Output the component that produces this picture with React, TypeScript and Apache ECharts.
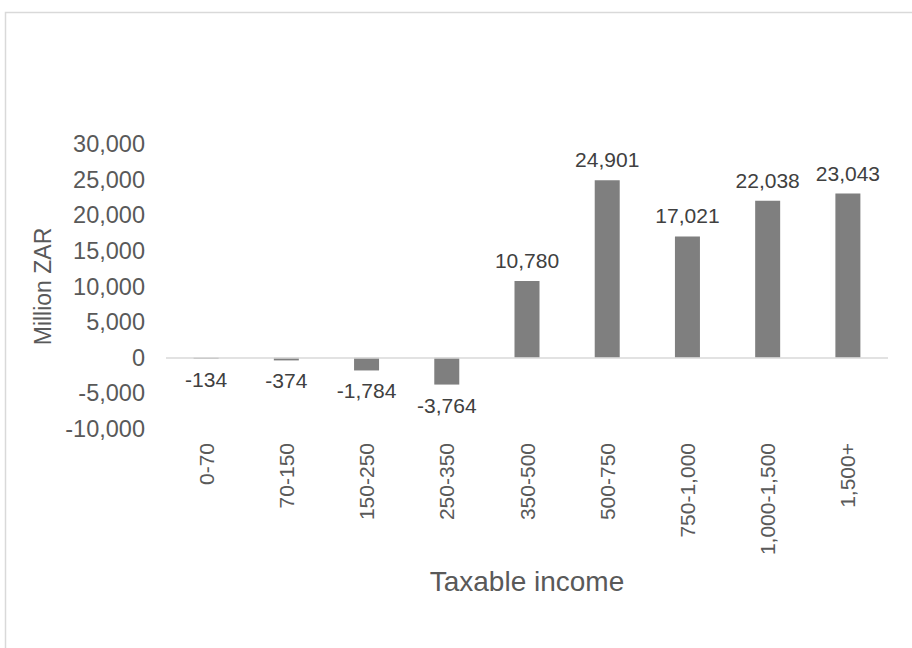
import { useEffect, useRef } from 'react'
import * as echarts from 'echarts'

const categories = ['0-70', '70-150', '150-250', '250-350', '350-500', '500-750', '750-1,000', '1,000-1,500', '1,500+']
const values = [-134, -374, -1784, -3764, 10780, 24901, 17021, 22038, 23043]

const fmt = (v: number) => v.toLocaleString('en-US')

export default function App() {
  const chartRef = useRef<HTMLDivElement>(null)

  useEffect(() => {
    document.body.style.margin = '0'
    if (!chartRef.current) return
    const chart = echarts.init(chartRef.current, undefined, { renderer: 'svg' })

    chart.setOption({
      animation: false,
      textStyle: { fontFamily: 'Liberation Sans, Arial, sans-serif' },
      graphic: [
        {
          type: 'rect',
          shape: { x: 5.5, y: 12.5, width: 1200, height: 1000 },
          style: { fill: 'none', stroke: '#d9d9d9', lineWidth: 1.5 },
          silent: true,
        },
      ],
      grid: { left: 166, right: 24, top: 144, bottom: 219, containLabel: false },
      xAxis: {
        type: 'category',
        data: categories,
        axisLine: { show: false, onZero: false },
        axisTick: { show: false },
        axisLabel: { rotate: 90, fontSize: 21, color: '#595959', margin: 14, interval: 0 },
        name: 'Taxable income',
        nameLocation: 'middle',
        nameGap: 138,
        nameTextStyle: { fontSize: 28, color: '#595959' },
      },
      yAxis: {
        type: 'value',
        min: -10000,
        max: 30000,
        interval: 5000,
        axisLine: { show: false },
        axisTick: { show: false },
        splitLine: { show: false },
        axisLabel: { fontSize: 23.5, color: '#595959', margin: 21, formatter: (v: number) => fmt(v) },
        name: 'Million ZAR',
        nameLocation: 'middle',
        nameGap: 112,
        nameTextStyle: { fontSize: 23, color: '#595959' },
      },
      series: [
        {
          type: 'bar',
          barWidth: 25,
          itemStyle: { color: '#7f7f7f' },
          label: {
            show: true,
            fontSize: 21,
            color: '#404040',
            distance: 10,
            formatter: (p: any) => fmt(p.value),
          },
          data: values.map((v) => ({ value: v, label: { position: v < 0 ? 'bottom' : 'top' } })),
          markLine: {
            silent: true,
            symbol: 'none',
            label: { show: false },
            lineStyle: { color: '#d9d9d9', type: 'solid', width: 1.5 },
            data: [{ yAxis: 0 }],
          },
        },
      ],
    })

    return () => {
      chart.dispose()
    }
  }, [])

  return <div ref={chartRef} style={{ width: '912px', height: '648px' }}></div>
}
